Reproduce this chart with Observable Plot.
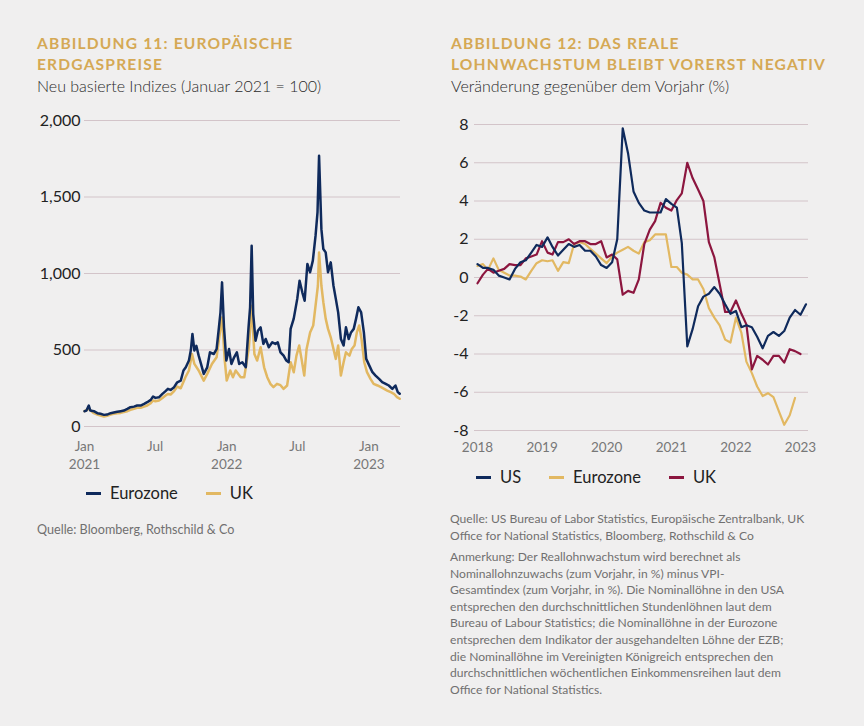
<!DOCTYPE html>
<html>
<head>
<meta charset="utf-8">
<script src="https://cdn.jsdelivr.net/npm/d3@7"></script>
<script src="https://cdn.jsdelivr.net/npm/@observablehq/plot@0.6"></script>
<style>
  html, body { margin: 0; padding: 0; background: #f0efef; }
  body { width: 864px; height: 726px; position: relative; overflow: hidden; font-family: Lato, "Noto Sans", sans-serif; }
  .title { position: absolute; top: 33px; color: #d5a955; font-weight: 700; font-size: 15.6px; letter-spacing: 1.15px; line-height: 21px; }
  .sub { color: #2a2a2a; font-weight: 300; font-size: 16px; letter-spacing: 0; }
  .chart { position: absolute; }
  .legend { position: absolute; display: flex; align-items: center; font-size: 16.5px; color: #222; }
  .legend .sw { display: inline-block; width: 15px; height: 3px; margin-right: 9px; }
  .legend .item { display: flex; align-items: center; margin-right: 28px; }
  .note { position: absolute; color: #707070; font-size: 12.3px; line-height: 16.6px; }
</style>
</head>
<body>
<div class="title" style="left:37px">ABBILDUNG 11: EUROPÄISCHE<br>ERDGASPREISE<br><span class="sub">Neu basierte Indizes (Januar 2021 = 100)</span></div>
<div class="title" style="left:451px">ABBILDUNG 12: DAS REALE<br>LOHNWACHSTUM BLEIBT VORERST NEGATIV<br><span class="sub">Veränderung gegenüber dem Vorjahr (%)</span></div>
<div id="left" class="chart" style="left:0px; top:100px"></div>
<div id="right" class="chart" style="left:432px; top:100px"></div>
<div class="legend" style="left:86px; top:483px">
  <span class="item"><span class="sw" style="background:#0f2a5c"></span>Eurozone</span>
  <span class="item"><span class="sw" style="background:#e2b862"></span>UK</span>
</div>
<div class="legend" style="left:476px; top:467px">
  <span class="item"><span class="sw" style="background:#0f2a5c"></span>US</span>
  <span class="item"><span class="sw" style="background:#e2b862"></span>Eurozone</span>
  <span class="item"><span class="sw" style="background:#8c163f"></span>UK</span>
</div>
<div class="note" style="left:37px; top:522px; font-size:12.6px">Quelle: Bloomberg, Rothschild &amp; Co</div>
<div class="note" style="left:450px; top:511px; font-size:12.1px">Quelle: US Bureau of Labor Statistics, Europäische Zentralbank, UK<br>Office for National Statistics, Bloomberg, Rothschild &amp; Co</div>
<div class="note" style="left:450px; top:549px; font-size:12.1px">Anmerkung: Der Reallohnwachstum wird berechnet als<br>Nominallohnzuwachs (zum Vorjahr, in %) minus VPI-<br>Gesamtindex (zum Vorjahr, in %). Die Nominallöhne in den USA<br>entsprechen den durchschnittlichen Stundenlöhnen laut dem<br>Bureau of Labour Statistics; die Nominallöhne in der Eurozone<br>entsprechen dem Indikator der ausgehandelten Löhne der EZB;<br>die Nominallöhne im Vereinigten Königreich entsprechen den<br>durchschnittlichen wöchentlichen Einkommensreihen laut dem<br>Office for National Statistics.</div>
<script>
// ---------- Chart 11: European gas prices (index, Jan 2021 = 100) ----------
const euroDates = ["2021-01-01","2021-01-06","2021-01-12","2021-01-16","2021-01-25","2021-02-03","2021-02-11","2021-02-20","2021-02-28","2021-03-09","2021-03-17","2021-03-26","2021-04-04","2021-04-12","2021-04-21","2021-04-29","2021-05-08","2021-05-16","2021-05-25","2021-06-03","2021-06-11","2021-06-20","2021-06-26","2021-07-02","2021-07-11","2021-07-20","2021-07-28","2021-08-03","2021-08-10","2021-08-19","2021-08-27","2021-09-05","2021-09-12","2021-09-18","2021-09-26","2021-10-01","2021-10-05","2021-10-10","2021-10-15","2021-10-21","2021-10-27","2021-11-03","2021-11-12","2021-11-19","2021-11-29","2021-12-06","2021-12-12","2021-12-16","2021-12-20","2021-12-25","2021-12-31","2022-01-07","2022-01-13","2022-01-20","2022-01-27","2022-02-02","2022-02-10","2022-02-19","2022-02-26","2022-03-02","2022-03-06","2022-03-10","2022-03-16","2022-03-22","2022-03-29","2022-04-05","2022-04-11","2022-04-19","2022-04-28","2022-05-06","2022-05-12","2022-05-19","2022-05-27","2022-06-03","2022-06-09","2022-06-14","2022-06-22","2022-07-01","2022-07-07","2022-07-14","2022-07-20","2022-07-27","2022-08-03","2022-08-10","2022-08-17","2022-08-22","2022-08-26","2022-09-01","2022-09-06","2022-09-12","2022-09-18","2022-09-25","2022-10-02","2022-10-08","2022-10-14","2022-10-21","2022-10-28","2022-11-03","2022-11-10","2022-11-16","2022-11-23","2022-11-29","2022-12-05","2022-12-12","2022-12-19","2022-12-25","2023-01-02","2023-01-10","2023-01-18","2023-01-27","2023-02-04","2023-02-13","2023-02-21","2023-03-02","2023-03-10","2023-03-16","2023-03-21"];
const euroValues = [100,104,137,104,100,87,83,76,78,87,91,96,100,104,115,126,130,137,137,148,159,174,196,187,191,213,231,246,239,257,289,300,366,387,431,500,605,496,527,463,409,344,387,485,474,506,648,746,942,648,431,506,409,452,485,409,420,387,648,779,1181,735,561,626,648,540,572,518,550,540,550,485,463,431,420,638,705,834,953,877,822,1062,1008,1084,1247,1399,1769,1290,1160,1138,1008,1073,920,834,746,572,529,648,572,615,638,705,779,746,615,442,398,355,333,311,290,279,268,246,268,225,214];

const ukDates = ["2021-01-01","2021-01-12","2021-01-25","2021-02-03","2021-02-11","2021-02-20","2021-02-28","2021-03-09","2021-03-17","2021-03-26","2021-04-04","2021-04-12","2021-04-21","2021-04-29","2021-05-08","2021-05-16","2021-05-25","2021-06-03","2021-06-11","2021-06-20","2021-06-26","2021-07-02","2021-07-11","2021-07-20","2021-07-28","2021-08-03","2021-08-10","2021-08-19","2021-08-27","2021-09-05","2021-09-17","2021-09-26","2021-10-04","2021-10-10","2021-10-21","2021-11-03","2021-11-12","2021-11-24","2021-12-06","2021-12-14","2021-12-20","2021-12-27","2022-01-01","2022-01-10","2022-01-17","2022-01-24","2022-02-06","2022-02-15","2022-02-27","2022-03-06","2022-03-13","2022-03-20","2022-03-29","2022-04-07","2022-04-15","2022-04-23","2022-05-01","2022-05-10","2022-05-19","2022-05-27","2022-06-05","2022-06-14","2022-06-22","2022-06-29","2022-07-06","2022-07-12","2022-07-19","2022-07-25","2022-08-03","2022-08-11","2022-08-17","2022-08-23","2022-08-26","2022-09-01","2022-09-06","2022-09-12","2022-09-18","2022-09-25","2022-10-02","2022-10-08","2022-10-14","2022-10-21","2022-10-28","2022-11-03","2022-11-12","2022-11-18","2022-11-25","2022-12-01","2022-12-07","2022-12-13","2022-12-20","2022-12-27","2023-01-05","2023-01-13","2023-01-23","2023-02-01","2023-02-09","2023-02-17","2023-02-26","2023-03-06","2023-03-14","2023-03-21"];
const ukValues = [100,115,87,78,72,65,70,78,83,87,89,94,100,109,115,122,122,130,137,152,170,165,170,187,202,213,209,231,261,250,322,366,474,409,366,300,344,409,452,605,713,431,300,366,322,366,322,322,518,790,474,431,518,387,322,279,257,279,270,246,268,420,355,463,529,442,333,507,615,660,790,920,1138,920,812,705,638,583,507,442,529,333,420,485,463,507,529,615,660,572,420,355,311,279,268,257,246,235,224,214,192,181];

const gasYTicks = [0, 500, 1000, 1500, 2000];
const gasXTicks = ["2021-01-01","2021-07-01","2022-01-01","2022-07-01","2023-01-01"];

// ---------- Chart 12: real wage growth (% y/y), monthly from Jan 2018 ----------
const wageStart = "2018-01-01";
const usValues = [0.7,0.5,0.5,0.4,0.1,0.0,-0.1,0.45,0.8,0.9,1.3,1.7,
  1.6,2.1,1.6,1.15,1.45,1.75,1.6,1.7,1.4,1.4,1.1,0.65,
  0.5,0.8,2.0,7.8,6.5,4.5,3.9,3.5,3.4,3.4,3.4,4.1,
  3.85,3.65,1.8,-3.6,-2.7,-1.5,-1.0,-0.85,-0.5,-0.85,
  -1.4,-1.9,-1.75,-2.6,-2.5,-2.6,-3.1,-3.7,-3.05,-2.85,-3.05,-2.8,-2.1,-1.7,-1.95,-1.4];
const ezValues = [0.6,0.7,0.4,1.0,0.4,0.25,0.1,0.1,0.05,-0.1,0.35,0.75,
  0.9,0.85,0.9,0.35,0.8,0.75,1.75,1.85,1.75,1.5,1.25,1.0,
  0.75,1.1,1.3,1.45,1.6,1.4,1.25,1.85,1.95,2.25,2.25,2.25,
  0.55,0.55,0.25,0.15,-0.1,-0.1,-0.6,-1.6,-2.1,-2.5,-3.25,-3.4,
  -2.1,-2.9,-4.4,-5.0,-5.7,-6.2,-6.05,-6.25,-7.0,-7.7,-7.2,-6.3];
const ukWageValues = [-0.3,0.15,0.45,0.25,0.35,0.45,0.7,0.65,0.65,1.0,1.1,1.2,
  1.9,1.3,1.2,1.85,1.85,2.0,1.75,1.9,1.9,1.75,1.75,1.9,
  1.05,1.2,0.95,-0.9,-0.7,-0.8,-0.1,1.75,2.5,2.95,3.9,3.65,
  3.5,4.05,4.4,6.0,5.2,4.6,4.0,1.85,1.05,-0.35,-1.8,-1.8,
  -1.2,-1.9,-2.45,-4.8,-4.1,-4.3,-4.55,-4.1,-4.1,-4.45,-3.75,-3.85,-4.0];
const wageYTicks = [-8, -6, -4, -2, 0, 2, 4, 6, 8];
const wageXTicks = ["2018-01-01","2019-01-01","2020-01-01","2021-01-01","2022-01-01","2023-01-01"];

// ---------- styling ----------
const NAVY = "#0f2a5c", GOLD = "#e2b862", CRIMSON = "#8c163f", GRID = "#d3c4c9";
const FONT = "Lato, 'Noto Sans', sans-serif";

const toRows = (dates, values) => dates.map((d, i) => ({date: new Date(d), value: values[i]}));
const monthRows = (values) => values.map((v, i) => ({date: d3.utcMonth.offset(new Date(wageStart), i), value: v}));

const monthNames = {0: "Jan", 6: "Jul"};
const gasFmt = d => d.getUTCMonth() === 0 ? `${monthNames[0]}\n${d.getUTCFullYear()}` : monthNames[d.getUTCMonth()];

const left = Plot.plot({
  width: 432, height: 390,
  marginLeft: 84, marginRight: 32, marginTop: 20, marginBottom: 64,
  style: {background: "transparent", fontFamily: FONT, color: "#222", overflow: "visible"},
  x: {type: "utc", domain: [new Date("2021-01-01"), new Date("2023-03-23")]},
  y: {domain: [0, 2000]},
  marks: [
    Plot.ruleY(gasYTicks, {stroke: GRID, strokeWidth: 1}),
    Plot.line(toRows(ukDates, ukValues), {x: "date", y: "value", stroke: GOLD, strokeWidth: 2.5, curve: "linear"}),
    Plot.line(toRows(euroDates, euroValues), {x: "date", y: "value", stroke: NAVY, strokeWidth: 2.5, curve: "linear"}),
    Plot.axisY({ticks: gasYTicks, tickSize: 0, tickPadding: 4, tickFormat: d3.format(","), fontSize: 16, fill: "#222", label: null}),
    Plot.axisX({ticks: gasXTicks.map(d => new Date(d)), tickSize: 0, tickPadding: 12, tickFormat: gasFmt, fontSize: 13.5, fill: "#777", label: null, lineHeight: 1.3})
  ]
});
document.getElementById("left").appendChild(left);

const right = Plot.plot({
  width: 432, height: 370,
  marginLeft: 42, marginRight: 56, marginTop: 24, marginBottom: 40,
  style: {background: "transparent", fontFamily: FONT, color: "#222", overflow: "visible"},
  x: {type: "utc", domain: [new Date("2018-01-01"), new Date("2023-01-01")], range: [45, 368]},
  y: {domain: [-8, 8]},
  marks: [
    Plot.ruleY(wageYTicks, {stroke: GRID, strokeWidth: 1}),
    Plot.line(monthRows(ezValues), {x: "date", y: "value", stroke: GOLD, strokeWidth: 2.2}),
    Plot.line(monthRows(ukWageValues), {x: "date", y: "value", stroke: CRIMSON, strokeWidth: 2.2}),
    Plot.line(monthRows(usValues), {x: "date", y: "value", stroke: NAVY, strokeWidth: 2.2}),
    Plot.axisY({ticks: wageYTicks, tickSize: 0, tickPadding: 6, tickFormat: d => String(d), fontSize: 16, fill: "#222", label: null}),
    Plot.axisX({ticks: wageXTicks.map(d => new Date(d)), tickSize: 0, tickPadding: 12, tickFormat: d => String(d.getUTCFullYear()), fontSize: 13.5, fill: "#777", label: null})
  ]
});
document.getElementById("right").appendChild(right);
</script>
</body>
</html>
